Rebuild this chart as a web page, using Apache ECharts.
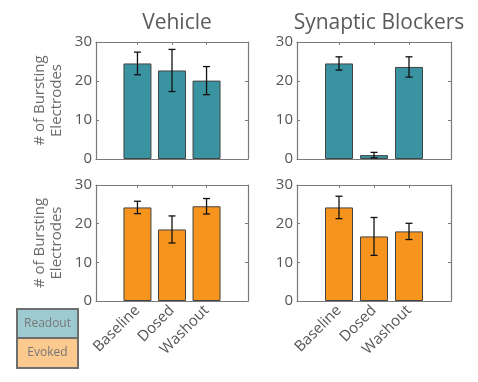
<!DOCTYPE html>
<html><head><meta charset="utf-8">
<script src="https://cdn.jsdelivr.net/npm/echarts@6/dist/echarts.min.js"></script>
<style>html,body{margin:0;padding:0;background:#fff}#c{width:478px;height:382px}</style>
</head><body><div id="c"></div>
<script>
const categories = ['Baseline', 'Dosed', 'Washout'];
const panelTitles = ['Vehicle', 'Synaptic Blockers'];
const yTicks = [0, 10, 20, 30];
const vehicleReadout = [24.5, 22.7, 20.1];
const vehicleReadoutErr = [2.9, 5.4, 3.6];
const blockersReadout = [24.5, 1.0, 23.6];
const blockersReadoutErr = [1.7, 0.7, 2.6];
const vehicleEvoked = [24.2, 18.5, 24.5];
const vehicleEvokedErr = [1.6, 3.5, 2.0];
const blockersEvoked = [24.2, 16.7, 18.0];
const blockersEvokedErr = [2.9, 4.9, 2.1];

const TEAL = '#3a93a0', ORANGE = '#f7941d';
const FONT = 'Open Sans';
const panels = [
  {vals: vehicleReadout, err: vehicleReadoutErr, color: TEAL, left: 96, top: 42, width: 152, height: 117, ylab: true, xlab: false},
  {vals: blockersReadout, err: blockersReadoutErr, color: TEAL, left: 297, top: 42, width: 154, height: 117, ylab: false, xlab: false},
  {vals: vehicleEvoked, err: vehicleEvokedErr, color: ORANGE, left: 96, top: 185, width: 152, height: 116, ylab: true, xlab: true},
  {vals: blockersEvoked, err: blockersEvokedErr, color: ORANGE, left: 297, top: 185, width: 154, height: 116, ylab: false, xlab: true}
];
const pos = categories.map((c, i) => i + 1);
const grid = [], xAxis = [], yAxis = [], series = [];
panels.forEach((p, k) => {
  grid.push({left: p.left, top: p.top, width: p.width, height: p.height, containLabel: false});
  const axLine = {show: true, onZero: false, lineStyle: {color: '#7a7a7a', width: 1.2}};
  const tick = {show: true, inside: true, length: 3, lineStyle: {color: '#7a7a7a'}};
  xAxis.push({gridIndex: k, type: 'value', min: -0.2, max: 4.2, position: 'bottom',
    axisLine: axLine, splitLine: {show: false},
    axisTick: Object.assign({customValues: pos}, tick),
    axisLabel: p.xlab ? {show: true, customValues: pos, rotate: 45, fontSize: 15, color: '#555', fontFamily: FONT, margin: 7,
      formatter: v => categories[Math.round(v) - 1] || ''} : {show: false}});
  xAxis.push({gridIndex: k, type: 'value', min: -0.2, max: 4.2, position: 'top',
    axisLine: axLine, splitLine: {show: false},
    axisTick: Object.assign({customValues: pos}, tick),
    axisLabel: {show: false}});
  yAxis.push({gridIndex: k, type: 'value', min: 0, max: 30, interval: 10, position: 'left',
    axisLine: axLine, splitLine: {show: false}, axisTick: tick,
    axisLabel: {show: true, fontSize: 15, color: '#555', fontFamily: FONT, margin: 4, formatter: v => yTicks.includes(v) ? String(v) : ''},
    name: p.ylab ? '# of Bursting\nElectrodes' : '', nameLocation: 'middle', nameGap: 31, nameRotate: 90,
    nameTextStyle: {fontSize: 15, color: '#6a6a6a', fontFamily: FONT, lineHeight: 17}});
  yAxis.push({gridIndex: k, type: 'value', min: 0, max: 30, interval: 10, position: 'right',
    axisLine: axLine, splitLine: {show: false}, axisTick: tick,
    axisLabel: {show: false}});
  series.push({type: 'bar', xAxisIndex: 2 * k, yAxisIndex: 2 * k, barWidth: 28,
    data: p.vals.map((v, i) => [pos[i], v]),
    itemStyle: {color: p.color, borderColor: '#444', borderWidth: 1}, silent: true, z: 2});
  series.push({type: 'custom', xAxisIndex: 2 * k, yAxisIndex: 2 * k, z: 5, silent: true,
    data: p.vals.map((v, i) => [pos[i], v - p.err[i], v + p.err[i]]),
    renderItem: (params, api) => {
      const lo = api.coord([api.value(0), api.value(1)]);
      const hi = api.coord([api.value(0), api.value(2)]);
      const w = 3.5, st = {stroke: '#111', lineWidth: 1.3};
      return {type: 'group', children: [
        {type: 'line', shape: {x1: lo[0], y1: lo[1], x2: hi[0], y2: hi[1]}, style: st},
        {type: 'line', shape: {x1: lo[0] - w, y1: lo[1], x2: lo[0] + w, y2: lo[1]}, style: st},
        {type: 'line', shape: {x1: hi[0] - w, y1: hi[1], x2: hi[0] + w, y2: hi[1]}, style: st}
      ]};
    }});
});
const titles = [
  {text: panelTitles[0], left: 172, top: 8, textAlign: 'center', textStyle: {fontSize: 21, fontWeight: 'normal', color: '#5a5a5a', fontFamily: FONT}},
  {text: panelTitles[1], left: 374, top: 8, textAlign: 'center', textStyle: {fontSize: 21, fontWeight: 'normal', color: '#5a5a5a', fontFamily: FONT}}
];
const chart = echarts.init(document.getElementById('c'), null, {renderer: 'canvas'});
chart.setOption({
  animation: false,
  title: titles,
  grid, xAxis, yAxis, series,
  graphic: [
    {type: 'rect', shape: {x: 17, y: 309, width: 61, height: 29}, style: {fill: '#9ecbd1', stroke: '#6e6e6e', lineWidth: 2}},
    {type: 'rect', shape: {x: 17, y: 338, width: 61, height: 30}, style: {fill: '#fcc98f', stroke: '#6e6e6e', lineWidth: 2}},
    {type: 'text', x: 47.5, y: 324, style: {text: 'Readout', fill: '#777', font: '12px "Open Sans"', textAlign: 'center', textVerticalAlign: 'middle'}},
    {type: 'text', x: 47.5, y: 353, style: {text: 'Evoked', fill: '#777', font: '12px "Open Sans"', textAlign: 'center', textVerticalAlign: 'middle'}}
  ]
});
</script></body></html>
